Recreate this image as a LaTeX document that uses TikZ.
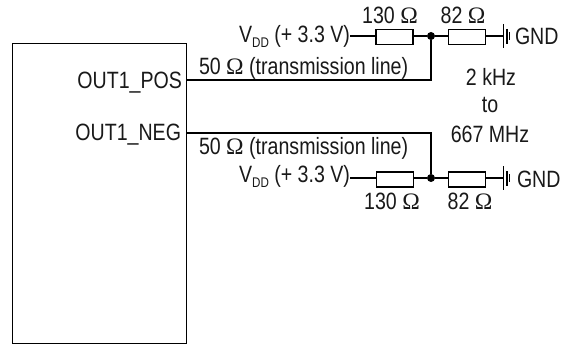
\documentclass[tikz,border=0pt]{standalone}
\usepackage{fontspec}
\setmainfont[FakeStretch=0.83]{Liberation Sans}
\newfontfamily\omfont{Liberation Serif}
\newcommand{\Om}{{\omfont Ω}}
\newcommand{\Vdd}{V\raisebox{-0.4ex}{\fontsize{14}{14}\selectfont DD}}
\tikzset{
  x=1pt,y=-1pt,
  wire/.style={draw=black,line width=1.1pt},
  resbox/.style={draw=black,line width=1.1pt,fill=white,minimum width=37pt,minimum height=15pt,inner sep=0pt,outer sep=0pt},
  junct/.style={circle,fill=black,minimum size=8pt,inner sep=0pt,outer sep=0pt},
  lab/.style={inner sep=0pt,outer sep=0pt,font=\fontsize{23.6}{26}\selectfont,text=black!90},
}
\begin{document}
\begin{tikzpicture}
\useasboundingbox (0,0) rectangle (572,358);
\fill[white] (0,0) rectangle (572,358);
\node[draw=black,line width=1.2pt,minimum width=174pt,minimum height=300pt,inner sep=0pt,outer sep=0pt,anchor=north west] (chip) at (12.5,43.5) {};
\coordinate (pos) at (chip.north east |- 0,80);
\coordinate (neg) at (chip.north east |- 0,133);
\node[lab,anchor=east] at (182,83) {OUT1\_POS};
\node[lab,anchor=east] at (181,135) {OUT1\_NEG};
% top branch
\coordinate (v1) at (350,36);
\node[resbox] (r1) at (394.5,37) {};
\node[junct] (d1) at (431,36) {};
\node[resbox] (r2) at (467,37) {};
\coordinate (g1) at (503.5,36);
\draw[wire] (v1) -- (r1.west |- v1) (r1.east |- v1) -- (d1) -- (r2.west |- v1) (r2.east |- v1) -- (g1);
\draw[wire] (pos) -- (d1 |- pos) -- (d1);
\draw[line width=1.1pt] (503.5,24) -- (503.5,48) (507,29) -- (507,44);
\draw[line width=.8pt] (509.5,32) -- (509.5,40);
% bottom branch
\coordinate (v2) at (350,178);
\node[resbox] (r3) at (395,179.5) {};
\node[junct] (d2) at (431,178) {};
\node[resbox] (r4) at (467,179.5) {};
\coordinate (g2) at (503.5,178);
\draw[wire] (v2) -- (r3.west |- v2) (r3.east |- v2) -- (d2) -- (r4.west |- v2) (r4.east |- v2) -- (g2);
\draw[wire] (neg) -- (d2 |- neg) -- (d2);
\draw[line width=1.1pt] (503.5,166) -- (503.5,190) (507,171) -- (507,186);
\draw[line width=.8pt] (509.5,174) -- (509.5,182);
% labels
\node[lab,anchor=east] at (350,36.5) {\Vdd\ (+ 3.3 V)};
\node[lab,anchor=east] at (350,176.5) {\Vdd\ (+ 3.3 V)};
\node[lab] at (390,15) {130 \Om};
\node[lab] at (463,15) {82 \Om};
\node[lab] at (392,201) {130 \Om};
\node[lab] at (470,201) {82 \Om};
\node[lab,anchor=west] at (199,68) {50 \Om\ (transmission line)};
\node[lab,anchor=west] at (199,148) {50 \Om\ (transmission line)};
\node[lab,anchor=west] at (515,36) {GND};
\node[lab,anchor=west] at (517,179) {GND};
\node[lab] at (491,77) {2 kHz};
\node[lab] at (490,105) {to};
\node[lab] at (490,134) {667 MHz};
\end{tikzpicture}
\end{document}
